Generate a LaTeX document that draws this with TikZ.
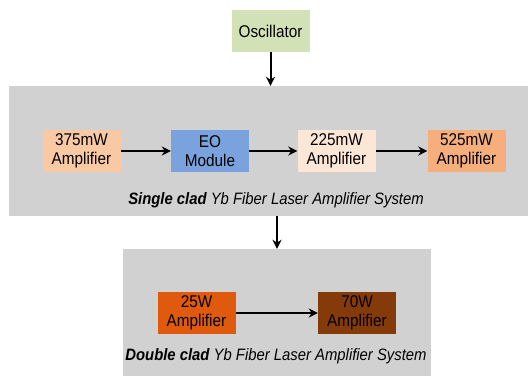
\documentclass[tikz,border=0pt]{standalone}
\usepackage{fontspec}
\setmainfont{Liberation Sans}[FakeStretch=0.9]
\usetikzlibrary{arrows.meta}
\definecolor{oscgreen}{HTML}{D3E2B6}
\definecolor{peach}{HTML}{F9C9A3}
\definecolor{eoblue}{HTML}{7AA3DE}
\definecolor{palepeach}{HTML}{FCE6D6}
\definecolor{midpeach}{HTML}{F5AE7C}
\definecolor{burnt}{HTML}{E05A0E}
\definecolor{brown}{HTML}{853A0A}
\definecolor{panel}{HTML}{D1D1D1}
\tikzset{
  every picture/.style={line join=round, >=Stealth},
  block/.style={minimum width=78pt, minimum height=42pt, inner sep=0pt,
    align=center, font=\fontsize{17}{19}\selectfont, text=black},
  stage/.style={fill=panel, inner sep=0pt},
  feed/.style={line width=2pt, black,
    -{Stealth[length=9pt,width=9pt]}},
  caption/.style={font=\fontsize{16.5}{19}\selectfont\itshape, text=black},
}
\begin{document}
\begin{tikzpicture}[x=1pt,y=-1pt]
\useasboundingbox (0,0) rectangle (528,376);
% grey panels
\node[stage, minimum width=519pt, minimum height=130pt] (single) at (268.5,151) {};
\node[stage, minimum width=308pt, minimum height=127pt] (double) at (277,312.5) {};
% blocks
\node[block, fill=oscgreen] (osc) at (270.5,31) {Oscillator};
\node[block, fill=peach] (amp375) at (81.5,151) {375mW\\Amplifier};
\node[block, fill=eoblue] (eo) at (210,151) {EO\\Module};
\node[block, fill=palepeach] (amp225) at (336.5,151) {225mW\\Amplifier};
\node[block, fill=midpeach] (amp525) at (466.5,151) {525mW\\Amplifier};
\node[block, fill=burnt] (amp25) at (196.5,313) {25W\\Amplifier};
\node[block, fill=brown] (amp70) at (357,313) {70W\\Amplifier};
% captions
\node[caption] (singlecap) at (276,200) {\textbf{Single clad} Yb Fiber Laser Amplifier System};
\node[caption] (doublecap) at (276,356) {\textbf{Double clad} Yb Fiber Laser Amplifier System};
% connectors
\draw[feed] (osc.south) -- (osc.south |- single.north);
\draw[feed] (single.south -| double.north) -- (double.north);
\draw[feed] (amp375) -- (eo);
\draw[feed] (eo) -- (amp225);
\draw[feed] (amp225) -- (amp525);
\draw[feed] (amp25) -- (amp70);
\end{tikzpicture}
\end{document}
